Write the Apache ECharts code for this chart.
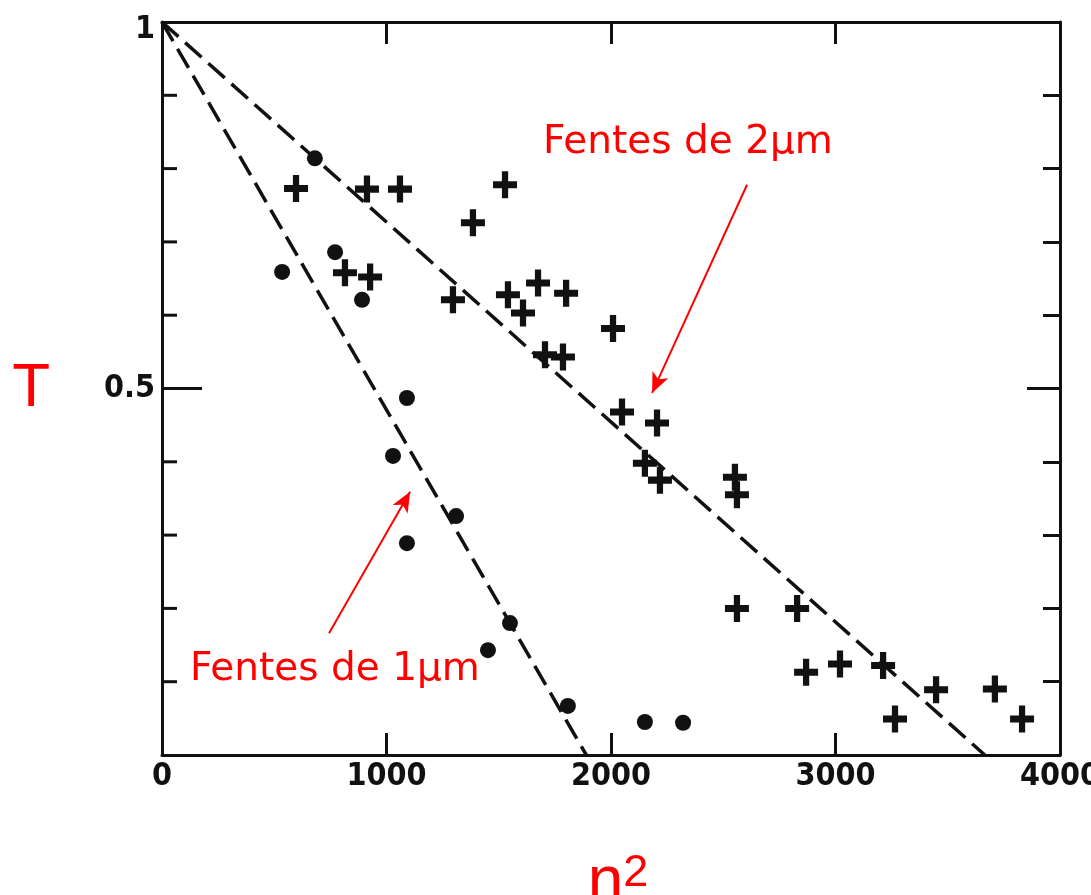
<!DOCTYPE html>
<html>
<head>
<meta charset="utf-8">
<script src="https://cdn.jsdelivr.net/npm/echarts@6/dist/echarts.min.js"></script>
<style>
  html, body { margin: 0; padding: 0; background: #fff; }
  #chart { width: 1091px; height: 895px; }
</style>
</head>
<body>
<div id="chart"></div>
<script>
// Transmission T against n^2, for slits of 1 um (dots) and 2 um (crosses)
const xTicks = [0, 1000, 2000, 3000, 4000];
const yTickLabels = { 0.5: '0.5', 1: '{top|1}' };
const leftMinorTicks = [0.1, 0.2, 0.3, 0.4, 0.6, 0.7, 0.8, 0.9];

// 1 um slits
const slit1x = [535, 681, 771, 891, 1091, 1029, 1310, 1091, 1550, 1452, 1808, 2151, 2321];
const slit1y = [0.659, 0.814, 0.686, 0.621, 0.487, 0.408, 0.326, 0.289, 0.180, 0.143, 0.067, 0.045, 0.044];

// 2 um slits
const slit2x = [597, 913, 1060, 815, 927, 1385, 1528, 1296, 1541, 1608, 1675, 1800, 2009, 1706, 1786,
                2049, 2205, 2151, 2218, 2552, 2561, 2561, 2829, 2869, 3020, 3212, 3265, 3448, 3710, 3831];
const slit2y = [0.773, 0.772, 0.772, 0.658, 0.652, 0.726, 0.778, 0.621, 0.628, 0.603, 0.644, 0.630, 0.582, 0.546, 0.543,
                0.468, 0.453, 0.398, 0.375, 0.379, 0.355, 0.200, 0.200, 0.113, 0.124, 0.122, 0.049, 0.089, 0.090, 0.049];

// dashed fit lines: T = 1 at n^2 = 0 down to T = 0
const fit1x = [0, 1890];
const fit1y = [1, 0];
const fit2x = [0, 3665];
const fit2y = [1, 0];

// annotations (data coordinates)
const label1 = { text: 'Fentes de 1\u03bcm', x: 125, y: 0.116 };
const label2 = { text: 'Fentes de 2\u03bcm', x: 1697, y: 0.835 };
const arrow1 = [[744, 0.166], [1105, 0.359]];
const arrow2 = [[2606, 0.778], [2183, 0.494]];

const zip = (xs, ys) => xs.map((x, i) => [x, ys[i]]);

const tickFont = {
  fontFamily: '"DejaVu Sans Condensed", "DejaVu Sans", sans-serif',
  fontSize: 32, fontWeight: 'bold', color: '#111'
};
const ink = '#111';
const plus = 'path://M-1.3,-5 L1.3,-5 L1.3,-1.3 L5,-1.3 L5,1.3 L1.3,1.3 L1.3,5 L-1.3,5 L-1.3,1.3 L-5,1.3 L-5,-1.3 L-1.3,-1.3 Z';

const chart = echarts.init(document.getElementById('chart'), null, { renderer: 'canvas' });

const dashed = { color: ink, width: 3.5, type: [22, 9] };
const frameLine = { show: true, onZero: false, lineStyle: { color: ink, width: 3 } };
const tickStyle = { color: ink, width: 3 };
const noSplit = { show: false };
const frame = { left: 162, right: 31, top: 22, bottom: 140, containLabel: false, outerBoundsMode: 'none' };

chart.setOption({
  animation: false,
  backgroundColor: '#fff',
  // second grid over the same area carries the long left tick at 0.5
  grid: [frame, { ...frame }],
  xAxis: [
    {
      type: 'value', gridIndex: 0, position: 'bottom', min: 0, max: 4000, interval: 1000,
      name: 'n{s|2}', nameLocation: 'middle', nameGap: 96,
      nameTextStyle: {
        color: '#ff0000', fontFamily: '"Liberation Sans", Arial, sans-serif', fontSize: 64,
        verticalAlign: 'top', lineHeight: 64, padding: [0, 0, 0, 14],
        rich: { s: { fontSize: 45, verticalAlign: 'top', lineHeight: 26, color: '#ff0000' } }
      },
      axisLine: frameLine,
      axisTick: { show: true, inside: true, length: 22, lineStyle: tickStyle },
      axisLabel: { show: true, margin: 6, ...tickFont, formatter: v => xTicks.includes(v) ? String(v) : '' },
      splitLine: noSplit
    },
    {
      type: 'value', gridIndex: 0, position: 'top', min: 0, max: 4000, interval: 1000,
      axisLine: frameLine,
      axisTick: { show: true, inside: true, length: 22, lineStyle: tickStyle },
      axisLabel: { show: false },
      splitLine: noSplit
    },
    { type: 'value', gridIndex: 1, min: 0, max: 4000, show: false }
  ],
  yAxis: [
    {
      // left frame line with labels 0.5 and 1
      type: 'value', gridIndex: 0, position: 'left', min: 0, max: 1, interval: 0.5,
      name: 'T', nameLocation: 'middle', nameGap: 112, nameRotate: 0,
      nameTextStyle: {
        color: '#ff0000', fontFamily: '"Liberation Sans", Arial, sans-serif', fontSize: 62,
        padding: [0, 0, 40, 0]
      },
      axisLine: frameLine,
      axisTick: { show: false },
      axisLabel: {
        show: true, margin: 7, ...tickFont,
        rich: { top: { ...tickFont, padding: [16, 0, 0, 0] } },
        formatter: v => yTickLabels[v] || ''
      },
      splitLine: noSplit
    },
    {
      // right frame: long ticks every 0.5, short ones every 0.1
      type: 'value', gridIndex: 0, position: 'right', min: 0, max: 1, interval: 0.5,
      axisLine: frameLine,
      axisTick: { show: true, inside: true, length: 33, lineStyle: tickStyle },
      minorTick: { show: true, splitNumber: 5, length: 17, lineStyle: tickStyle },
      axisLabel: { show: false },
      splitLine: noSplit, minorSplitLine: noSplit
    },
    {
      // left frame: long ticks every 0.5
      type: 'value', gridIndex: 1, position: 'left', min: 0, max: 1, interval: 0.5,
      axisLine: { show: false, onZero: false },
      axisTick: { show: true, inside: true, length: 40, lineStyle: tickStyle },
      axisLabel: { show: false },
      splitLine: noSplit
    }
  ],
  series: [
    {
      // short tick marks along the left frame, placed through the y scale
      name: 'left ticks', type: 'custom', xAxisIndex: 0, yAxisIndex: 0, silent: true, z: 4,
      data: leftMinorTicks.map(v => [0, v]),
      renderItem: (params, api) => {
        const p = api.coord([0, api.value(1)]);
        return {
          type: 'line',
          shape: { x1: p[0], y1: p[1], x2: p[0] + 15, y2: p[1] },
          style: { stroke: ink, lineWidth: 3 }
        };
      }
    },
    {
      name: 'fit 1um', type: 'line', data: zip(fit1x, fit1y), symbol: 'none',
      lineStyle: dashed, silent: true, z: 2
    },
    {
      name: 'fit 2um', type: 'line', data: zip(fit2x, fit2y), symbol: 'none',
      lineStyle: dashed, silent: true, z: 2
    },
    {
      name: '1um', type: 'scatter', data: zip(slit1x, slit1y),
      symbol: 'circle', symbolSize: 16, itemStyle: { color: ink, opacity: 1 }, z: 3
    },
    {
      name: '2um', type: 'scatter', data: zip(slit2x, slit2y),
      symbol: plus, symbolSize: [24, 27], itemStyle: { color: ink, opacity: 1 }, z: 3
    },
    {
      name: 'arrows', type: 'line', data: [], silent: true, z: 5,
      markLine: {
        silent: true, animation: false,
        symbol: ['none', 'arrow'], symbolSize: [13, 20],
        label: { show: false },
        lineStyle: { color: '#ff0000', width: 2, type: 'solid' },
        data: [
          [{ coord: arrow1[0] }, { coord: arrow1[1] }],
          [{ coord: arrow2[0] }, { coord: arrow2[1] }]
        ]
      }
    }
  ]
});

// red text labels placed from their data coordinates
const annFont = '"Comic Sans MS", "DejaVu Sans", sans-serif';
const place = lab => {
  const p = chart.convertToPixel({ gridIndex: 0 }, [lab.x, lab.y]);
  return {
    type: 'text', x: p[0], y: p[1], z: 10,
    style: { text: lab.text, fill: '#ff0000', font: '39px ' + annFont, textAlign: 'left', textVerticalAlign: 'middle' }
  };
};
chart.setOption({ graphic: [place(label1), place(label2)] });
</script>
</body>
</html>
